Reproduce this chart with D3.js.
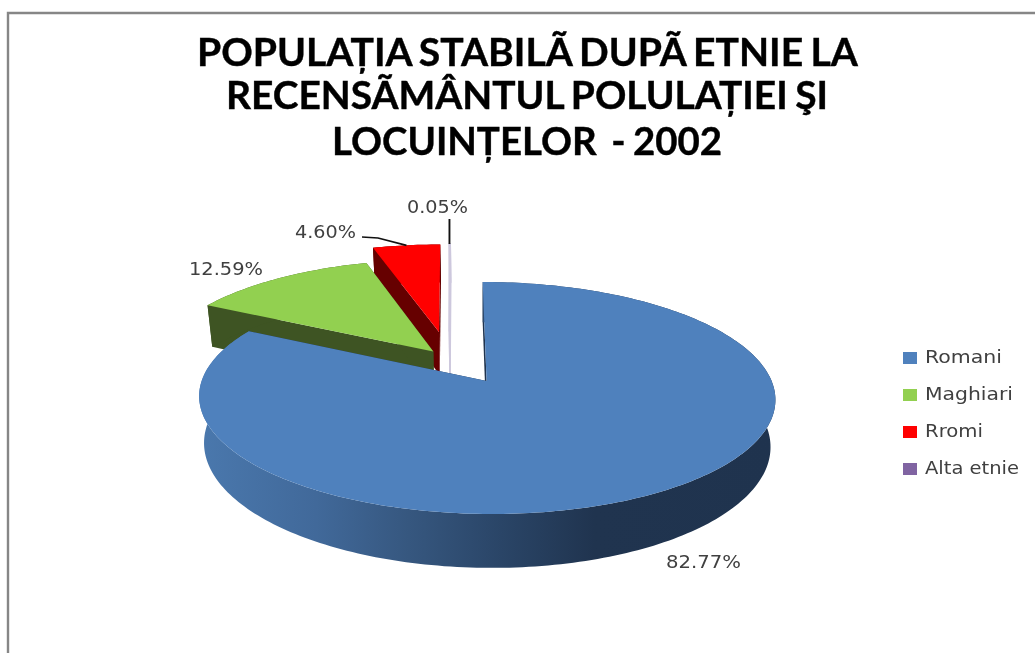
<!DOCTYPE html>
<html><head><meta charset="utf-8">
<script src="https://cdn.jsdelivr.net/npm/d3@7/dist/d3.min.js"></script>
<style>html,body{margin:0;padding:0;background:#fff;overflow:hidden}svg{display:block}text{white-space:pre}</style>
</head><body><svg id="c" width="1035" height="653"></svg>
<script>
// data
const categories = ["Romani","Maghiari","Rromi","Alta etnie"];
const shares = [82.77,12.59,4.60,0.05];
const labels = ["82.77%","12.59%","4.60%","0.05%"];
const colors = ["#4f81bd","#92d050","#ff0000","#8064a2"];
const wallColors = ["#2f4d72","#3e5423","#660000","#cdc8dd"];
const topColors = ["#4f81bd","#92d050","#ff0000","#cdc8dd"];
const titleLines = ["POPULAȚIA STABILÃ DUPÃ ETNIE LA","RECENSÃMÂNTUL POLULAȚIEI ŞI","LOCUINȚELOR  - 2002"];

// layout
const W=1035,H=653;
const explode=[[0,0],[-.19,.27],[-.171,.46],[-.132,.466]];
const cam={x0:486.6,y0:381,a:285,b:113.5,k:.1465,shear:-4.5,depth:46,shrink:.017};
const titleLayout=[{y:66,x0:197,x1:858},{y:109,x0:226,x1:828},{y:155,x0:332,x1:722}];
const labelLayout=[{x:666,y:568,w:75},{x:189,y:275,w:74},{x:295,y:238,w:61},{x:407,y:213,w:61}];
const legendLayout=[{y:363,w:77},{y:400,w:88},{y:437,w:58},{y:474,w:94}];

const svg=d3.select("#c");
const defs=svg.append("defs");
const grad=defs.append("linearGradient").attr("id","blueSide").attr("gradientUnits","userSpaceOnUse")
  .attr("x1",200).attr("x2",780).attr("y1",0).attr("y2",0);
[[0,"#4a78ad"],[.2,"#41699a"],[.36,"#36577f"],[.52,"#2a4567"],[.68,"#20344f"],[1,"#1f334e"]]
  .forEach(([o,c])=>grad.append("stop").attr("offset",o).attr("stop-color",c));
const soft=defs.append("filter").attr("id","soft").attr("x","-5%").attr("y","-20%").attr("width","110%").attr("height","140%");
soft.append("feGaussianBlur").attr("stdDeviation",.45);

// frame
svg.append("path").attr("d",d3.line()([[8,H],[8,13],[W,13]])).attr("fill","none").attr("stroke","#868686").attr("stroke-width",2.4);

// perspective projection of the pie disk
function project(u,v,z){
  const w=1+cam.k*v, s=1-cam.shrink*z;
  return [cam.x0+(cam.a*u/w)*s+cam.shear*v/w, cam.y0-cam.b*v/w+cam.depth*z/w];
}
const pie=d3.pie().sort(null).value(d=>d);
const arcs=pie(shares);
const line=d3.line();
function rim(i,t,z){const e=explode[i];return project(Math.sin(t)+e[0],Math.cos(t)+e[1],z);}
function hub(i,z){const e=explode[i];return project(e[0],e[1],z);}
function thetas(a){const n=Math.max(2,Math.ceil((a.endAngle-a.startAngle)/.02));return d3.range(n+1).map(j=>a.startAngle+(a.endAngle-a.startAngle)*j/n);}

const g=svg.append("g");
[3,2,1,0].forEach(i=>{
  const a=arcs[i], ts=thetas(a);
  const wall=i===0?"url(#blueSide)":wallColors[i];
  const dark=wallColors[i];
  const thin=i===3?{stroke:topColors[3],sw:1.6}:{stroke:"none",sw:0};
  // radial walls
  [a.startAngle,a.endAngle].forEach(t=>{
    g.append("path").attr("d",line([hub(i,0),rim(i,t,0),rim(i,t,1),hub(i,1)])+"Z")
     .attr("fill",i===0?"#1f334e":dark).attr("stroke",thin.stroke).attr("stroke-width",thin.sw);
  });
  // outer wall
  g.append("path").attr("d",line(ts.map(t=>rim(i,t,0)).concat(ts.slice().reverse().map(t=>rim(i,t,1))))+"Z")
   .attr("fill",wall).attr("stroke",thin.stroke).attr("stroke-width",thin.sw);
  // top face
  g.append("path").attr("d",line([hub(i,0)].concat(ts.map(t=>rim(i,t,0))))+"Z")
   .attr("fill",topColors[i]).attr("stroke",thin.stroke).attr("stroke-width",thin.sw);
});

// leader lines
const mid2=rim(2,(arcs[2].startAngle+arcs[2].endAngle)/2,0);
svg.append("path").attr("d",d3.line()([[362,237],[378,238],mid2])).attr("fill","none").attr("stroke","#111").attr("stroke-width",1.7);
const mid3=rim(3,arcs[3].startAngle,0);
svg.append("path").attr("d",line([[mid3[0],219],[mid3[0],mid3[1]]])).attr("fill","none").attr("stroke","#111").attr("stroke-width",1.9);

// text
const txt=svg.append("g").attr("filter","url(#soft)");
titleLines.forEach((t,i)=>{const l=titleLayout[i];
  txt.append("text").attr("x",l.x0).attr("y",l.y).text(t)
   .attr("textLength",l.x1-l.x0).attr("lengthAdjust","spacingAndGlyphs")
   .attr("font-family","Lato").attr("font-weight",700).attr("font-size",38).attr("word-spacing",-2)
   .attr("stroke","#000").attr("stroke-width",.4).attr("fill","#000");
});
labels.forEach((t,i)=>{const l=labelLayout[i];
  txt.append("text").attr("x",l.x).attr("y",l.y).text(t)
   .attr("textLength",l.w).attr("lengthAdjust","spacingAndGlyphs")
   .attr("font-family","DejaVu Sans").attr("font-size",18).attr("fill","#404040");
});
categories.forEach((t,i)=>{const l=legendLayout[i];
  svg.append("rect").attr("x",903).attr("y",l.y-11).attr("width",14).attr("height",12).attr("fill",colors[i]);
  txt.append("text").attr("x",925).attr("y",l.y).text(t)
   .attr("textLength",l.w).attr("lengthAdjust","spacingAndGlyphs")
   .attr("font-family","DejaVu Sans").attr("font-size",18).attr("fill","#404040");
});
</script></body></html>
